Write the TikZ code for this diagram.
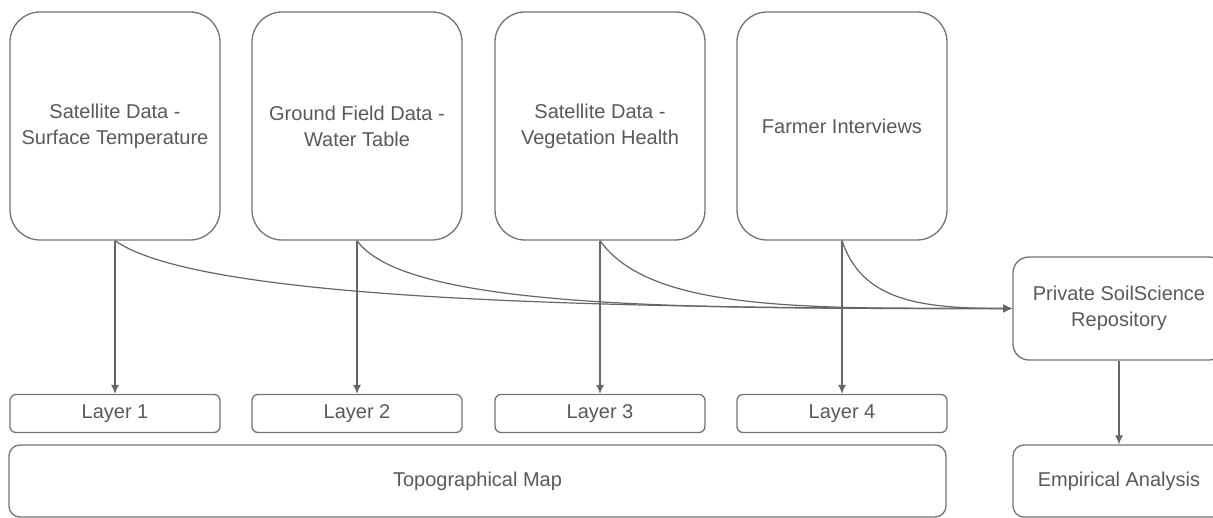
\documentclass[tikz,border=0pt]{standalone}
\usepackage{fontspec}
\setmainfont{Liberation Sans}
\usetikzlibrary{arrows.meta}
\tikzset{
	srcbox/.style={draw=black!55, line width=1.3pt, rounded corners=30pt, minimum width=210pt, minimum height=228pt, align=center, text=black!65},
	layerbox/.style={draw=black!55, line width=1.3pt, rounded corners=6pt, minimum width=210pt, minimum height=38pt, text=black!65},
	widebox/.style={draw=black!55, line width=1.3pt, rounded corners=11pt, minimum height=72pt, align=center, text=black!65},
	flow/.style={draw=black!60, line width=1.2pt, -{Latex[length=9pt,width=8pt]}}
}
\begin{document}
		\begin{tikzpicture}[x=1pt, y=-1pt, font=\fontsize{20}{26}\selectfont]
			\useasboundingbox (0,0) rectangle (1213,518);
			\node[srcbox] (surftemp) at (115,126) {Satellite Data -\\Surface Temperature};
			\node[srcbox] (watertable) at (357,126) {Ground Field Data -\\Water Table};
			\node[srcbox] (veghealth) at (600,126) {Satellite Data -\\Vegetation Health};
			\node[srcbox] (farmers) at (842,126) {Farmer Interviews};
			\node[layerbox] (layer1) at (115,413.5) {Layer 1};
			\node[layerbox] (layer2) at (357,413.5) {Layer 2};
			\node[layerbox] (layer3) at (600,413.5) {Layer 3};
			\node[layerbox] (layer4) at (842,413.5) {Layer 4};
			\node[widebox, minimum width=937pt] (topomap) at (477.5,481) {Topographical Map};
			\node[widebox, rounded corners=16pt, minimum width=212pt, minimum height=103pt] (repo) at (1119,308.5) {Private SoilScience\\Repository};
			\node[widebox, minimum width=212pt] (analysis) at (1119,481) {Empirical Analysis};
			\draw[flow] (surftemp.south) .. controls +(85,60) and +(-413,0) .. (repo.west);
			\draw[flow] (watertable.south) .. controls +(50,70) and +(-313,0) .. (repo.west);
			\draw[flow] (veghealth.south) .. controls +(50,70) and +(-213,0) .. (repo.west);
			\draw[flow] (farmers.south) .. controls +(20,60) and +(-93,0) .. (repo.west);
			\draw[flow] (surftemp.south) -- (layer1.north);
			\draw[flow] (watertable.south) -- (layer2.north);
			\draw[flow] (veghealth.south) -- (layer3.north);
			\draw[flow] (farmers.south) -- (layer4.north);
			\draw[flow] (repo.south) -- (analysis.north);
		\end{tikzpicture}
\end{document}
